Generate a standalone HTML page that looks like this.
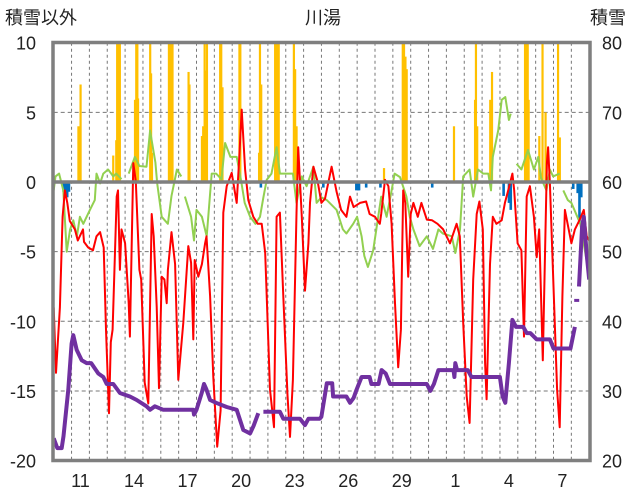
<!DOCTYPE html>
<html><head><meta charset="utf-8">
<style>
html,body{margin:0;padding:0;background:#fff;}
svg{display:block;font-family:"Liberation Sans","Noto Sans CJK JP",sans-serif;}
</style></head>
<body>
<svg id="chart" width="636" height="501" viewBox="0 0 636 501">
<defs><clipPath id="pc"><rect x="53" y="42" width="537" height="419"/></clipPath></defs>
<text x="5" y="24" font-size="18" fill="#222">積雪以外</text>
<text x="323" y="24" font-size="18" fill="#222" text-anchor="middle">川湯</text>
<text x="590" y="24" font-size="18" fill="#222">積雪</text>
<g id="grid"></g>
<g id="bars" clip-path="url(#pc)"></g>
<g id="lines" clip-path="url(#pc)"></g>
<g id="axes"></g>
</svg>
<script>
const leftTicks=[10,5,0,-5,-10,-15,-20];
const rightTicks=[80,70,60,50,40,30,20];
const dayLabels=["11","14","17","20","23","26","29","1","4","7"];
const dayLabelIdx=[1,4,7,10,13,16,19,22,25,28];
const nDays=30;
const redT=[0,0.13,0.35,0.5,0.63,0.76,0.9,1.19,1.35,1.64,1.7,1.93,2.2,2.4,2.6,2.8,2.93,3.1,3.2,3.3,3.53,3.6,3.71,3.8,4.0,4.2,4.27,4.46,4.6,4.8,4.9,5.1,5.3,5.49,5.6,5.77,5.9,6.05,6.2,6.33,6.4,6.6,6.8,6.98,7.26,7.54,7.7,7.82,7.9,8.1,8.3,8.48,8.56,8.76,8.94,9.16,9.35,9.5,9.69,9.97,10.25,10.4,10.53,10.72,10.9,11.18,11.43,11.65,11.85,12.12,12.34,12.49,12.67,12.86,13.1,13.24,13.4,13.6,13.7,13.9,14.08,14.27,14.36,14.55,14.8,15.0,15.2,15.57,15.85,16.1,16.4,16.6,16.8,17.16,17.5,17.7,18.0,18.27,18.35,18.56,18.75,18.93,19.12,19.3,19.45,19.58,19.7,19.86,20.0,20.15,20.4,20.6,20.9,21.2,21.5,21.82,22.2,22.57,22.75,22.94,23.14,23.3,23.5,23.7,23.85,24.04,24.17,24.25,24.44,24.6,24.8,25.1,25.28,25.46,25.7,25.8,25.99,26.2,26.35,26.5,26.68,26.9,27.06,27.2,27.4,27.63,27.7,27.8,28.0,28.2,28.35,28.5,28.64,28.85,29.0,29.2,29.45,29.7,29.86,30];
const redV=[-9,-13.7,-9,-2.5,-0.6,-1.5,-2.8,-3.4,-4.2,-3.4,-4.3,-4.7,-4.9,-3.9,-3.6,-4.7,-10.6,-16.6,-11.5,-10.6,-1.05,-0.6,-6.3,-3.4,-4.4,-8.7,-11.1,1.36,0.05,-6.3,-7,-14.4,-15.9,-2.3,-3.9,-8.95,-14.8,-6.8,-7,-8.7,-6.3,-3.6,-5.9,-14.2,-10.1,-4.6,-5.8,-11.3,-5.6,-6.8,-5.9,-4.4,-3.9,-8.2,-14,-19,-16.4,-2.2,-0.3,0.65,-1.5,1.8,5.2,0.9,-1.3,-2.5,-3,-3,-5.1,-14.9,-17.6,-2.5,-2.2,-8.2,-15.3,-18.3,-14.2,-2.25,2.5,-2.5,-7.8,-4.4,-1.5,1.1,-0.05,-1.5,-1.2,1.1,-0.7,-2,-2.5,-1.05,-1.8,-1.5,-1.4,-2.3,-2.5,-3,-2.3,0.15,-0.3,-3,-8.7,-13.3,-10.6,-0.6,-1.5,-6.8,-2.3,-1.5,-2.5,-1.5,-2.7,-2.75,-3,-3.4,-4.4,-3,-3.9,-10.1,-15.4,-17.3,-7,-2.3,-1.4,-3.4,-13,-15.6,-5.9,-2.5,-3,-2.75,-1.5,-0.6,0.6,-0.6,-4.4,-4.9,-11.1,-1.05,-0.3,-2.5,-5.4,-3.4,-12.8,1.35,2.5,-0.1,-7.5,-14.9,-17.6,-8.2,-2,-3.4,-4.4,-3.4,-2.75,-2,-3.9,-4.2];
const greenT=[0,0.1,0.3,0.54,0.73,0.92,1.1,1.3,1.47,1.66,2.03,2.3,2.4,2.6,2.78,3.05,3.34,3.5,3.8,null,4.2,4.55,4.8,5.2,5.4,5.5,5.7,5.8,6.05,6.4,6.6,6.9,7.15,null,7.35,7.7,7.86,8.0,8.3,8.57,8.85,9.1,9.4,9.6,9.9,10.25,10.5,10.7,11.0,11.3,11.56,11.75,11.93,12.2,12.49,12.67,13.05,13.4,13.6,13.9,14.17,14.55,14.73,15.0,15.3,15.85,16.2,16.4,16.78,17.0,17.25,17.4,17.6,17.9,18.18,18.35,18.65,18.93,19.1,19.4,19.76,19.95,20.15,20.5,20.9,21.25,21.55,21.8,22.3,22.5,22.76,22.94,23.3,23.5,23.77,24.06,24.35,24.5,24.6,24.9,25.1,25.3,25.5,25.6,null,25.93,26.2,26.57,26.9,27.15,27.3,27.6,27.8,27.98,28.35,null,28.55,28.8,29.0,29.5,29.85,30];
const greenV=[-0.6,0.4,0.6,-0.6,-5,-3.4,-2.75,-3.9,-2.5,-3,-2,-1.3,0.6,-0.1,0.6,0.9,0.4,0.6,0.2,null,0.6,1.8,1.15,1.1,3.7,2.9,1.4,-0.1,-2.5,-3,-1,0.9,0.4,null,-1.05,-2.5,-4.2,-2,-2.5,-3.9,0.6,0.6,0.2,2.8,1.8,1.8,0.1,-1.5,-2.5,-3,-2.5,-1.1,0.15,0.6,2.5,0.6,0.6,0.6,-1.5,0.4,-0.3,1.1,-1.5,-1.1,-1.3,-2,-3.4,-3.7,-3,-2.5,-3.9,-5.3,-6.1,-4.9,-2.5,-1.05,-2.5,-0.6,0.6,0.35,-1.05,-2.5,-3.4,-4.6,-3.9,-4.8,-3.4,-3.7,-3.9,-5.1,-3.4,0.4,0.9,-1.05,0.9,0.6,0.6,-0.6,1.8,3.7,5.9,6.1,4.45,4.9,null,1.3,0.9,2.3,0.9,1.8,0.3,-0.6,0.9,0.4,0.6,null,-0.6,-1.3,-1.5,-3,-5.6,-6];
const snowT=[0,0.2,0.45,0.55,0.82,1.0,1.1,1.29,1.57,1.85,2.1,2.5,2.78,2.97,3.34,3.71,4.27,4.65,5.2,5.4,5.67,6.14,7.82,7.86,8.0,8.29,8.42,8.56,8.76,9.1,9.69,10.25,10.62,11.0,11.2,11.46,null,11.75,12.67,12.86,13.8,14.08,14.27,14.9,15.0,15.3,15.6,15.65,16.4,16.6,16.8,16.97,17.25,17.7,17.8,18.2,18.37,18.6,18.84,20.9,21.1,21.3,21.55,22.4,22.45,22.5,22.6,23.2,23.4,25.0,25.15,25.3,25.5,25.7,25.9,26.3,26.5,26.7,27.06,27.8,28.0,28.95,29.2,null,29.43,29.6,29.7,29.87,30];
const snowD=[23.2,21.8,21.8,23.5,30.2,36.8,38,35.9,34.4,34,34,32.5,32,31,31,29.7,29.2,28.7,27.8,27.3,27.8,27.3,27.3,26.6,27.3,29.7,31,30.2,28.7,28.3,27.7,27.3,24.4,23.9,25,26.8,null,27,27,26,26,25.1,26,26,26.3,31.1,31.1,29.2,29.2,28.3,29,30.2,32,32,31,31,33,32.5,31,31,30,31,33,33,32,34,33,33,32,32,29.2,28.3,34,40.2,39.2,39.2,38.3,38.3,37.4,37.4,36.1,36.1,39.2,null,45,53.6,55,49.3,46];
const snowDotT=[29.3];
const snowDotD=[43];
const precipT=[1.38,1.43,1.5,3.33,3.5,3.55,3.6,3.65,3.7,4.55,4.62,4.68,4.72,5.4,5.45,5.5,6.45,6.5,6.55,6.6,6.65,7.55,7.6,8.3,8.37,8.45,8.52,8.58,9.32,9.38,9.45,10.4,10.45,11.5,11.55,11.62,12.4,12.45,12.5,12.55,12.6,13.45,13.52,13.6,18.5,19.55,19.62,19.7,19.77,22.42,23.6,23.65,23.72,24.45,24.55,26.4,26.45,26.55,26.6,27.2,27.38,27.55,28.25,28.35];
const precipV=[4,2,7,1.9,3,10,10,10,10,5.9,10,10,6,10,7.8,2.1,10,10,10,10,10,7.9,7,3.3,4,10,8,10,10,10,6.8,10,10,2.1,10,7,10,10,10,10,10,10,8.1,4,1,10,10,9,8.1,4,5.9,10,4,5.9,7.9,10,10,10,5.9,3.3,10,5,10,3.2];
const minusT=[0.55,0.65,0.75,0.85,11.6,15.1,16.95,17.05,17.1,17.5,18.3,21.2,25.2,25.5,25.6,29.1,29.35,29.45,29.55];
const minusV=[-0.7,-1.1,-1.1,-0.7,-0.4,-0.4,-0.6,-0.6,-0.6,-0.4,-0.4,-0.4,-1,-1.5,-2,-0.5,-0.8,-3,-1.1];

const NS="http://www.w3.org/2000/svg";
const X0=53.7,X1=589.2,Y0=42.7,Y1=460.6;
function xs(t){return X0+t*(X1-X0)/nDays;}
function yl(v){return Y0+(10-v)*(Y1-Y0)/30;}
function yr(d){return Y0+(80-d)*(Y1-Y0)/60;}
function mk(tag,attrs,parent){const e=document.createElementNS(NS,tag);for(const k in attrs)e.setAttribute(k,attrs[k]);parent.appendChild(e);return e;}
const grid=document.getElementById('grid'),bars=document.getElementById('bars'),lines=document.getElementById('lines'),axes=document.getElementById('axes');
for(let d=1;d<nDays;d++){
  const l=mk('line',{x1:xs(d),x2:xs(d),y1:Y0,y2:Y1,stroke:'#777','stroke-width':1,'stroke-dasharray':'3,3'},grid);
  
  
}
leftTicks.forEach(v=>{
  if(v!==0&&v!==10&&v!==-20){const l=mk('line',{x1:X0,x2:X1,y1:yl(v),y2:yl(v),stroke:'#777','stroke-width':1,'stroke-dasharray':'4,3'},grid);
  
  }
  const t=mk('text',{x:36,y:yl(v)+7,'font-size':18,'text-anchor':'end',fill:'#222'},axes);t.textContent=v;
  
  
});
rightTicks.forEach(d=>{
  const t=mk('text',{x:612,y:yr(d)+7,'font-size':18,'text-anchor':'middle',fill:'#222'},axes);t.textContent=d;
  
  
});
dayLabels.forEach((s,i)=>{
  const t=mk('text',{x:xs(dayLabelIdx[i]+0.5),y:487,'font-size':18,'text-anchor':'middle',fill:'#222'},axes);t.textContent=s;
  
  
});
precipT.forEach((t,i)=>{
  const y=yl(precipV[i]);
  const r=mk('rect',{x:xs(t)-1,y:y,width:2.2,height:yl(0)-y,fill:'#ffc000'},bars);
  
  
});
minusT.forEach((t,i)=>{
  const r=mk('rect',{x:xs(t)-1.2,y:yl(0),width:2.6,height:yl(minusV[i])-yl(0),fill:'#0070c0'},bars);
  
  
});
function path(T,V,f){let d='',pen=false;for(let i=0;i<T.length;i++){if(T[i]===null||V[i]===null){pen=false;continue;}d+=(pen?'L':'M')+xs(T[i]).toFixed(1)+','+f(V[i]).toFixed(1);pen=true;}return d;}
const g=mk('path',{d:path(greenT,greenV,yl),fill:'none',stroke:'#92d050','stroke-width':2,'stroke-linejoin':'round'},lines);


const r=mk('path',{d:path(redT,redV,yl),fill:'none',stroke:'#ff0000','stroke-width':2,'stroke-linejoin':'round'},lines);


const p=mk('path',{d:path(snowT,snowD,yr),fill:'none',stroke:'#7030a0','stroke-width':4,'stroke-linejoin':'round'},lines);


snowDotT.forEach((t,i)=>{
  const c=mk('rect',{x:xs(t)-2.5,y:yr(snowDotD[i])-1.5,width:5,height:3,fill:'#7030a0'},lines);
  
  
});
const z=mk('line',{x1:X0,x2:X1,y1:yl(0),y2:yl(0),stroke:'#7f7f7f','stroke-width':3.5},axes);


const f=mk('rect',{x:53,y:42.5,width:537,height:418,fill:'none',stroke:'#7f7f7f','stroke-width':3.5},axes);


</script>
</body></html>
